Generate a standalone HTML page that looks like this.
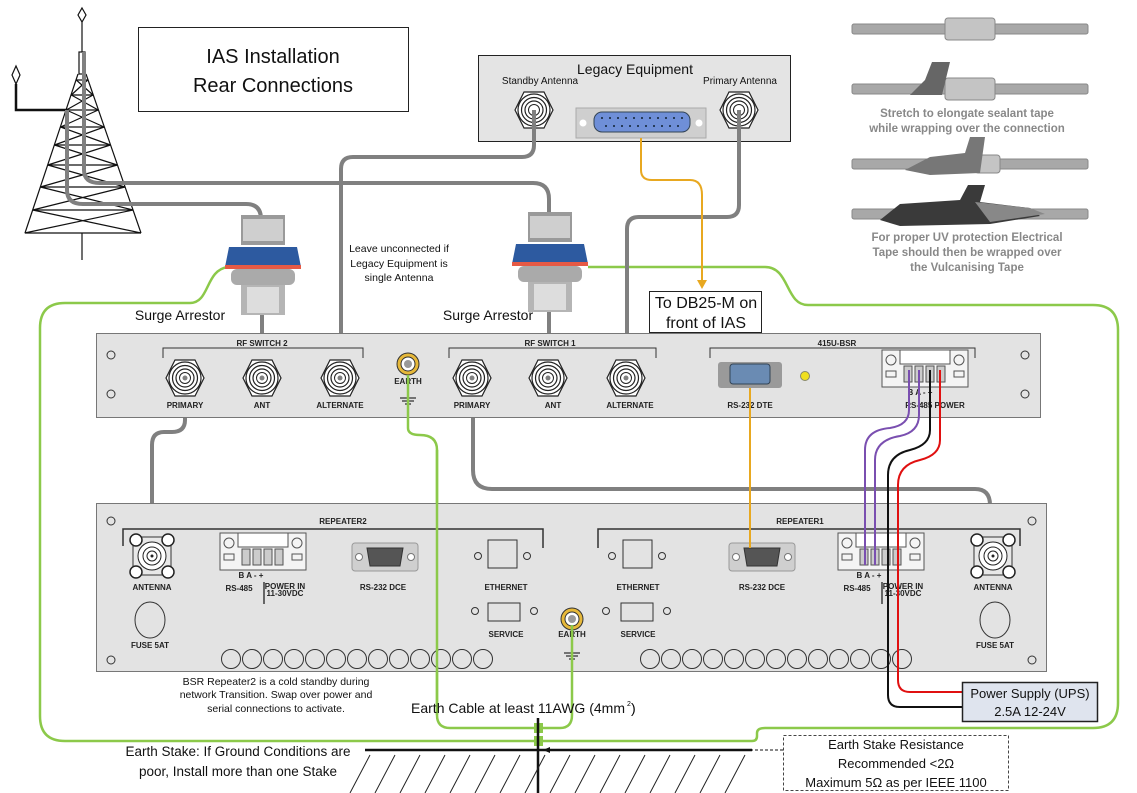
<!DOCTYPE html>
<html><head><meta charset="utf-8"><style>
html,body{margin:0;padding:0;background:#fff;}
svg{display:block;font-family:"Liberation Sans",sans-serif;}
.b{font-family:"Liberation Sans",sans-serif;font-weight:bold;font-size:8px;fill:#222;text-anchor:middle;}
.t{font-family:"Liberation Sans",sans-serif;fill:#111;text-anchor:middle;}
.g{fill:#888;font-weight:bold;font-size:11.5px;text-anchor:middle;}
</style></head><body>
<svg width="1137" height="793" viewBox="0 0 1137 793" xmlns="http://www.w3.org/2000/svg">
<defs>
<g id="nc"><polygon points="-19,0 -10,-18 10,-18 19,0 10,18 -10,18" fill="#fff" stroke="#222" stroke-width="1.2"/><circle r="16" fill="#fff" stroke="#222" stroke-width="1.2"/><circle r="12.5" fill="none" stroke="#222" stroke-width="1.2"/><circle r="9" fill="none" stroke="#222" stroke-width="1.2"/><circle r="5.5" fill="none" stroke="#222" stroke-width="1"/></g>
<g id="ant"><rect x="-19" y="-19" width="38" height="38" fill="#e8e8e8" stroke="#333"/><circle r="14" fill="#fff" stroke="#222"/><circle r="9" fill="none" stroke="#222"/><circle r="5" fill="none" stroke="#222"/><circle r="1.5" fill="#222"/>
<circle cx="-16" cy="-16" r="6" fill="#fff" stroke="#222" stroke-width="1.5"/><circle cx="16" cy="-16" r="6" fill="#fff" stroke="#222" stroke-width="1.5"/><circle cx="-16" cy="16" r="6" fill="#fff" stroke="#222" stroke-width="1.5"/><circle cx="16" cy="16" r="6" fill="#fff" stroke="#222" stroke-width="1.5"/></g>
<g id="term"><rect x="0" y="0" width="86" height="37" fill="#f4f4f4" stroke="#555"/><rect x="18" y="0" width="50" height="14" fill="#fff" stroke="#555"/><circle cx="9" cy="10" r="5" fill="none" stroke="#555"/><circle cx="77" cy="10" r="5" fill="none" stroke="#555"/><rect x="4" y="21" width="10" height="6" fill="none" stroke="#555"/><rect x="72" y="21" width="10" height="6" fill="none" stroke="#555"/>
<rect x="22" y="16" width="8" height="16" fill="#ccc" stroke="#555"/><rect x="33" y="16" width="8" height="16" fill="#ccc" stroke="#555"/><rect x="44" y="16" width="8" height="16" fill="#ccc" stroke="#555"/><rect x="55" y="16" width="8" height="16" fill="#ccc" stroke="#555"/></g>
<g id="db9"><rect x="-33" y="-14" width="66" height="28" rx="3" fill="#cfcfcf" stroke="#999"/><circle cx="-26" cy="0" r="3.5" fill="#fff" stroke="#777"/><circle cx="26" cy="0" r="3.5" fill="#fff" stroke="#777"/><path d="M-18,-9 H18 L15,9 H-15Z" fill="#555" stroke="#333"/></g>
<g id="earth"><circle r="11" fill="#e6b83a" stroke="#333"/><circle r="7" fill="#fff" stroke="#333"/><circle r="4" fill="#999"/></g>
<g id="sa"><rect x="-22" y="0" width="44" height="30" fill="#9a9a9a"/><rect x="-20" y="4" width="40" height="22" fill="#cfcfcf"/><path d="M-34,32 L34,32 L38,52 L-38,52Z" fill="#2d5aa0"/><rect x="-38" y="50" width="76" height="4" fill="#e65a45"/><rect x="-32" y="54" width="64" height="16" rx="6" fill="#aaa"/><rect x="-22" y="70" width="44" height="30" fill="#b5b5b5"/><rect x="-16" y="72" width="32" height="26" fill="#ddd"/></g>
</defs>

<!-- Tower -->
<g stroke="#111" fill="none" stroke-width="1.2">
<polygon points="82,8 86,15 82,22 78,15" fill="#fff"/>
<line x1="82" y1="22" x2="82" y2="52"/>
<rect x="79" y="52" width="6" height="22" fill="#fff"/>
<path d="M78,74 L25,233 M86,74 L141,233 M82,233 L82,260 M25,233 H141"/>
<path d="M76.3,80 L93,95 M87.7,80 L71.3,95 M71.3,95 L98.2,110 M93,95 L66.3,110 M66.3,110 L104.1,127 M98.2,110 L60.6,127 M60.6,127 L110.4,145 M104.1,127 L54.5,145 M54.5,145 L117.3,165 M110.4,145 L47.8,165 M47.8,165 L125,187 M117.3,165 L40.4,187 M40.4,187 L133,210 M125,187 L32.7,210 M32.7,210 L141,233 M133,210 L24.7,233"/>
<path d="M76.3,80 H87.7 M71.3,95 H93 M66.3,110 H98.2 M60.6,127 H104.1 M54.5,145 H110.4 M47.8,165 H117.3 M40.4,187 H125 M32.7,210 H133"/>
<polygon points="16,66 20,75 16,84 12,75" fill="#fff"/>
<path d="M16,84 V110 H68" stroke-width="2.5"/>
</g>
<!-- Title -->
<rect x="138.5" y="27.5" width="270" height="84" fill="#fff" stroke="#222"/>
<text class="t" x="273" y="63" font-size="20">IAS Installation</text>
<text class="t" x="273" y="92" font-size="20">Rear Connections</text>

<!-- Legacy -->
<rect x="478.5" y="55.5" width="312" height="86" fill="#e4e4e4" stroke="#222"/>
<text class="t" x="635" y="74" font-size="14">Legacy Equipment</text>
<text class="t" x="540" y="84" font-size="10">Standby Antenna</text>
<text class="t" x="740" y="84" font-size="10">Primary Antenna</text>
<use href="#nc" x="534" y="110"/><use href="#nc" x="739" y="110"/>
<rect x="576" y="108" width="130" height="30" fill="#cfcfcf" stroke="#aaa"/>
<circle cx="583" cy="123" r="3.5" fill="#fff"/><circle cx="699" cy="123" r="3.5" fill="#fff"/>
<rect x="594" y="112" width="96" height="20" rx="8" fill="#6f8fd8" stroke="#345"/>
<g fill="#123"><circle cx="602" cy="118" r="1"/><circle cx="610" cy="118" r="1"/><circle cx="618" cy="118" r="1"/><circle cx="626" cy="118" r="1"/><circle cx="634" cy="118" r="1"/><circle cx="642" cy="118" r="1"/><circle cx="650" cy="118" r="1"/><circle cx="658" cy="118" r="1"/><circle cx="666" cy="118" r="1"/><circle cx="674" cy="118" r="1"/><circle cx="682" cy="118" r="1"/><circle cx="606" cy="126" r="1"/><circle cx="614" cy="126" r="1"/><circle cx="622" cy="126" r="1"/><circle cx="630" cy="126" r="1"/><circle cx="638" cy="126" r="1"/><circle cx="646" cy="126" r="1"/><circle cx="654" cy="126" r="1"/><circle cx="662" cy="126" r="1"/><circle cx="670" cy="126" r="1"/><circle cx="678" cy="126" r="1"/></g>

<!-- Tape illustrations -->
<g>
<rect x="852" y="24" width="236" height="10" rx="2" fill="#a8a8a8" stroke="#888"/>
<rect x="945" y="18" width="50" height="22" rx="3" fill="#c4c4c4" stroke="#888"/>
<rect x="852" y="84" width="236" height="10" rx="2" fill="#a8a8a8" stroke="#888"/>
<rect x="945" y="78" width="50" height="22" rx="3" fill="#c4c4c4" stroke="#888"/>
<polygon points="910,95 925,80 932,62 950,62 942,95" fill="#666"/>
<text class="g" x="967" y="117">Stretch to elongate sealant tape</text>
<text class="g" x="967" y="132">while wrapping over the connection</text>
<rect x="852" y="159" width="236" height="10" rx="2" fill="#a8a8a8" stroke="#888"/>
<rect x="975" y="155" width="25" height="18" rx="3" fill="#c4c4c4" stroke="#888"/>
<polygon points="905,170 930,157 965,153 970,137 985,137 980,173 930,175" fill="#777"/>
<rect x="852" y="209" width="236" height="10" rx="2" fill="#a8a8a8" stroke="#888"/>
<polygon points="880,220 900,204 960,200 968,185 985,185 980,202 1030,208 1040,216 990,224 900,226" fill="#3a3a3a"/>
<polygon points="975,202 1030,208 1045,214 990,222" fill="#888"/>
<text class="g" x="967" y="241">For proper UV protection Electrical</text>
<text class="g" x="967" y="256">Tape should then be wrapped over</text>
<text class="g" x="967" y="271">the Vulcanising Tape</text>
</g>

<!-- Green outer loop -->
<g fill="none" stroke="#8cc94a" stroke-width="2.5">
<path d="M228,267 C205,270 210,303 190,303 H65 Q40,303 40,328 V716 Q40,741 65,741 H752 Q757,741 757,736 V733 Q757,728 765,728 H1093 Q1118,728 1118,703 V330 Q1118,305 1093,305 H808 C785,305 790,267 765,267 H588"/>
<path d="M408,375 V428 Q408,435 420,435 Q437,435 437,450 V715 Q437,728 450,728 H560 Q572,728 572,715 V619"/>
</g>
<rect x="534" y="723" width="9" height="10" fill="#8cc94a"/><rect x="534" y="736" width="9" height="10" fill="#8cc94a"/>

<!-- Grey cables -->
<g fill="none" stroke="#808080" stroke-width="4">
<path d="M84,52 V170 Q84,183 100,183 H533 Q549,183 549,199 V230"/>
<path d="M67,110 V190 Q67,204 83,204 H246 Q261,204 261,219 V230"/>
<path d="M534,110 V145 Q534,157 522,157 H353 Q341,157 341,169 V378"/>
<path d="M739,110 V205 Q739,217 727,217 H639 Q627,217 627,229 V378"/>
<path d="M262,300 V378"/><path d="M549,300 V378"/>
<path d="M185,378 V420 Q185,432 172,432 H164 Q152,432 152,445 V558"/>
<path d="M473,378 V470 Q473,489 492,489 H975 Q990,489 990,505 V558"/>
</g>
<!-- Surge arrestors -->
<use href="#sa" x="263" y="215"/><use href="#sa" x="550" y="212"/>
<text class="t" x="180" y="320" font-size="14">Surge Arrestor</text>
<text class="t" x="488" y="320" font-size="14">Surge Arrestor</text>
<text class="t" x="399" y="252" font-size="10.5">Leave unconnected if</text>
<text class="t" x="399" y="267" font-size="10.5">Legacy Equipment is</text>
<text class="t" x="399" y="281" font-size="10.5">single Antenna</text>

<!-- Orange DB25 -->
<path d="M641,138 V170 Q641,180 652,180 H690 Q702,180 702,195 V282" fill="none" stroke="#e8a820" stroke-width="2"/>
<polygon points="697,280 707,280 702,289" fill="#e8a820"/>
<rect x="649.5" y="291.5" width="112" height="41" fill="#fff" stroke="#222"/>
<text class="t" x="706" y="308" font-size="16">To DB25-M on</text>
<text class="t" x="706" y="328" font-size="16">front of IAS</text>

<!-- RF Switch panel -->
<rect x="96.5" y="333.5" width="944" height="84" fill="#e3e3e3" stroke="#777"/>
<g fill="none" stroke="#333"><circle cx="111" cy="355" r="4"/><circle cx="111" cy="394" r="4"/><circle cx="1025" cy="355" r="4"/><circle cx="1025" cy="394" r="4"/>
<path d="M163,358 V348 H363 V358"/><path d="M449,358 V348 H656 V358"/><path d="M710,358 V348 H975 V358"/></g>
<text class="b" x="262" y="346" font-size="11">RF SWITCH 2</text>
<text class="b" x="550" y="346" font-size="11">RF SWITCH 1</text>
<text class="b" x="837" y="346" font-size="11">415U-BSR</text>
<use href="#nc" x="185" y="378"/><use href="#nc" x="262" y="378"/><use href="#nc" x="340" y="378"/>
<use href="#nc" x="472" y="378"/><use href="#nc" x="548" y="378"/><use href="#nc" x="626" y="378"/>
<g fill="#808080"><circle cx="185" cy="378" r="2.5"/><circle cx="262" cy="378" r="2.5"/><circle cx="340" cy="378" r="2.5"/><circle cx="472" cy="378" r="2.5"/><circle cx="548" cy="378" r="2.5"/><circle cx="626" cy="378" r="2.5"/></g>
<text class="b" x="185" y="408">PRIMARY</text><text class="b" x="262" y="408">ANT</text><text class="b" x="340" y="408">ALTERNATE</text>
<text class="b" x="472" y="408">PRIMARY</text><text class="b" x="553" y="408">ANT</text><text class="b" x="630" y="408">ALTERNATE</text>
<use href="#earth" x="408" y="364"/>
<text class="b" x="408" y="384">EARTH</text>
<path d="M400,398 H416 M402,401 H414 M405,404 H411" stroke="#333" stroke-width="1.3"/>
<rect x="718" y="362" width="64" height="26" rx="3" fill="#9a9a9a"/><rect x="730" y="364" width="40" height="20" rx="3" fill="#6a8bb3" stroke="#345"/>
<circle cx="805" cy="376" r="4.5" fill="#f0e020" stroke="#886"/>
<text class="b" x="750" y="408">RS-232 DTE</text>
<use href="#term" x="882" y="350"/>
<text class="b" x="920" y="395">B  A   -   +</text>
<text class="b" x="935" y="408">RS-485 POWER</text>

<!-- Repeater panel -->
<rect x="96.5" y="503.5" width="950" height="168" fill="#e3e3e3" stroke="#777"/>
<g fill="none" stroke="#333"><circle cx="111" cy="521" r="4"/><circle cx="111" cy="660" r="4"/><circle cx="1032" cy="521" r="4"/><circle cx="1032" cy="660" r="4"/>
<path d="M123,546 V529 H543 V548" stroke-width="1.5"/><path d="M598,548 V529 H1020 V546" stroke-width="1.5"/>
<rect x="488" y="540" width="29" height="28"/><rect x="623" y="540" width="29" height="28"/>
<rect x="488" y="603" width="32" height="18"/><rect x="621" y="603" width="32" height="18"/>
<circle cx="475" cy="611" r="3.5"/><circle cx="534" cy="611" r="3.5"/><circle cx="606" cy="611" r="3.5"/><circle cx="667" cy="611" r="3.5"/>
<circle cx="478" cy="556" r="3.5"/><circle cx="527" cy="556" r="3.5"/><circle cx="612" cy="556" r="3.5"/><circle cx="662" cy="556" r="3.5"/>
<ellipse cx="150" cy="620" rx="15" ry="18"/><ellipse cx="995" cy="620" rx="15" ry="18"/>
<circle cx="231" cy="659" r="9.5"/><circle cx="252" cy="659" r="9.5"/><circle cx="273" cy="659" r="9.5"/><circle cx="294" cy="659" r="9.5"/><circle cx="315" cy="659" r="9.5"/><circle cx="336" cy="659" r="9.5"/><circle cx="357" cy="659" r="9.5"/><circle cx="378" cy="659" r="9.5"/><circle cx="399" cy="659" r="9.5"/><circle cx="420" cy="659" r="9.5"/><circle cx="441" cy="659" r="9.5"/><circle cx="462" cy="659" r="9.5"/><circle cx="483" cy="659" r="9.5"/>
<circle cx="650" cy="659" r="9.5"/><circle cx="671" cy="659" r="9.5"/><circle cx="692" cy="659" r="9.5"/><circle cx="713" cy="659" r="9.5"/><circle cx="734" cy="659" r="9.5"/><circle cx="755" cy="659" r="9.5"/><circle cx="776" cy="659" r="9.5"/><circle cx="797" cy="659" r="9.5"/><circle cx="818" cy="659" r="9.5"/><circle cx="839" cy="659" r="9.5"/><circle cx="860" cy="659" r="9.5"/><circle cx="881" cy="659" r="9.5"/><circle cx="902" cy="659" r="9.5"/>
</g>
<text class="b" x="343" y="524" font-size="12">REPEATER2</text>
<text class="b" x="800" y="524" font-size="12">REPEATER1</text>
<use href="#ant" x="152" y="556"/><use href="#ant" x="993" y="556"/>
<text class="b" x="152" y="590">ANTENNA</text><text class="b" x="993" y="590">ANTENNA</text>
<use href="#term" x="220" y="533"/><use href="#term" x="838" y="533"/>
<text class="b" x="251" y="578">B   A   -   +</text><text class="b" x="869" y="578">B   A   -   +</text>
<text class="b" x="239" y="591">RS-485</text><text class="b" x="857" y="591">RS-485</text>
<path d="M264,582 V604 M882,582 V604" stroke="#222" stroke-width="1.3"/>
<text class="b" x="285" y="589" font-size="6">POWER IN</text><text class="b" x="285" y="596" font-size="6">11-30VDC</text>
<text class="b" x="903" y="589" font-size="6">POWER IN</text><text class="b" x="903" y="596" font-size="6">11-30VDC</text>
<use href="#db9" x="385" y="557"/><use href="#db9" x="762" y="557"/>
<text class="b" x="383" y="590">RS-232 DCE</text><text class="b" x="762" y="590">RS-232 DCE</text>
<text class="b" x="506" y="590">ETHERNET</text><text class="b" x="638" y="590">ETHERNET</text>
<text class="b" x="506" y="637">SERVICE</text><text class="b" x="638" y="637">SERVICE</text>
<text class="b" x="150" y="648">FUSE 5AT</text><text class="b" x="995" y="648">FUSE 5AT</text>
<use href="#earth" x="572" y="619"/>
<text class="b" x="572" y="637">EARTH</text>
<path d="M564,653 H580 M566,656 H578 M569,659 H575" stroke="#333" stroke-width="1.3"/>

<!-- green over panels -->
<path d="M437,450 V715" stroke="#8cc94a" stroke-width="2.5"/>
<path d="M408,375 V418" stroke="#8cc94a" stroke-width="2.5"/>
<path d="M572,625 V672" stroke="#8cc94a" stroke-width="2.5"/>

<!-- Orange DB9 link -->
<path d="M750,388 V548" stroke="#e8a820" stroke-width="2"/>

<!-- RS485/power wires -->
<g fill="none" stroke-width="2">
<path d="M909,370 V410 Q909,425 890,428 Q865,430 865,450 V565" stroke="#7a4fb0"/>
<path d="M919,370 V415 Q919,432 900,436 Q875,440 875,460 V565" stroke="#7a4fb0"/>
<path d="M930,370 V430 Q930,445 910,450 Q888,455 888,475 V695 Q888,707 900,707 H962" stroke="#111"/>
<path d="M940,370 V440 Q940,455 920,460 Q898,465 898,485 V680 Q898,692 910,692 H962" stroke="#e01010"/>
</g>
<rect x="962.5" y="682.5" width="135" height="39" fill="#dfe4ee" stroke="#222" stroke-width="1.5"/>
<text class="t" x="1030" y="698" font-size="13">Power Supply (UPS)</text>
<text class="t" x="1030" y="716" font-size="13">2.5A 12-24V</text>

<!-- notes -->
<text class="t" x="276" y="685" font-size="10.5">BSR Repeater2 is a cold standby during</text>
<text class="t" x="276" y="698" font-size="10.5">network Transition. Swap over power and</text>
<text class="t" x="276" y="712" font-size="10.5">serial connections to activate.</text>
<text class="t" x="518" y="713" font-size="14">Earth Cable at least 11AWG (4mm</text>
<text x="627" y="706" font-size="7" font-family="Liberation Sans">2</text>
<text x="631" y="713" font-size="14" font-family="Liberation Sans">)</text>

<!-- Ground -->
<path d="M365,750 H752" stroke="#111" stroke-width="2.5"/>
<path d="M538,718 V793" stroke="#111" stroke-width="2.5"/>
<g stroke="#222" stroke-width="1"><path d="M370,755 L350,793 M395,755 L375,793 M420,755 L400,793 M445,755 L425,793 M470,755 L450,793 M495,755 L475,793 M520,755 L500,793 M545,755 L525,793 M570,755 L550,793 M595,755 L575,793 M620,755 L600,793 M645,755 L625,793 M670,755 L650,793 M695,755 L675,793 M720,755 L700,793 M745,755 L725,793"/></g>
<text class="t" x="238" y="756" font-size="13.5">Earth Stake: If Ground Conditions are</text>
<text class="t" x="238" y="776" font-size="13.5">poor, Install more than one Stake</text>
<path d="M783,750 H548" stroke="#111" stroke-dasharray="3,2"/>
<polygon points="543,750 550,747 550,753" fill="#111"/>
<rect x="783.5" y="735.5" width="225" height="55" fill="#fff" stroke="#444" stroke-dasharray="3,2"/>
<text class="t" x="896" y="749" font-size="13">Earth Stake Resistance</text>
<text class="t" x="896" y="768" font-size="13">Recommended &lt;2Ω</text>
<text class="t" x="896" y="787" font-size="13">Maximum 5Ω as per IEEE 1100</text>
</svg>
</body></html>
